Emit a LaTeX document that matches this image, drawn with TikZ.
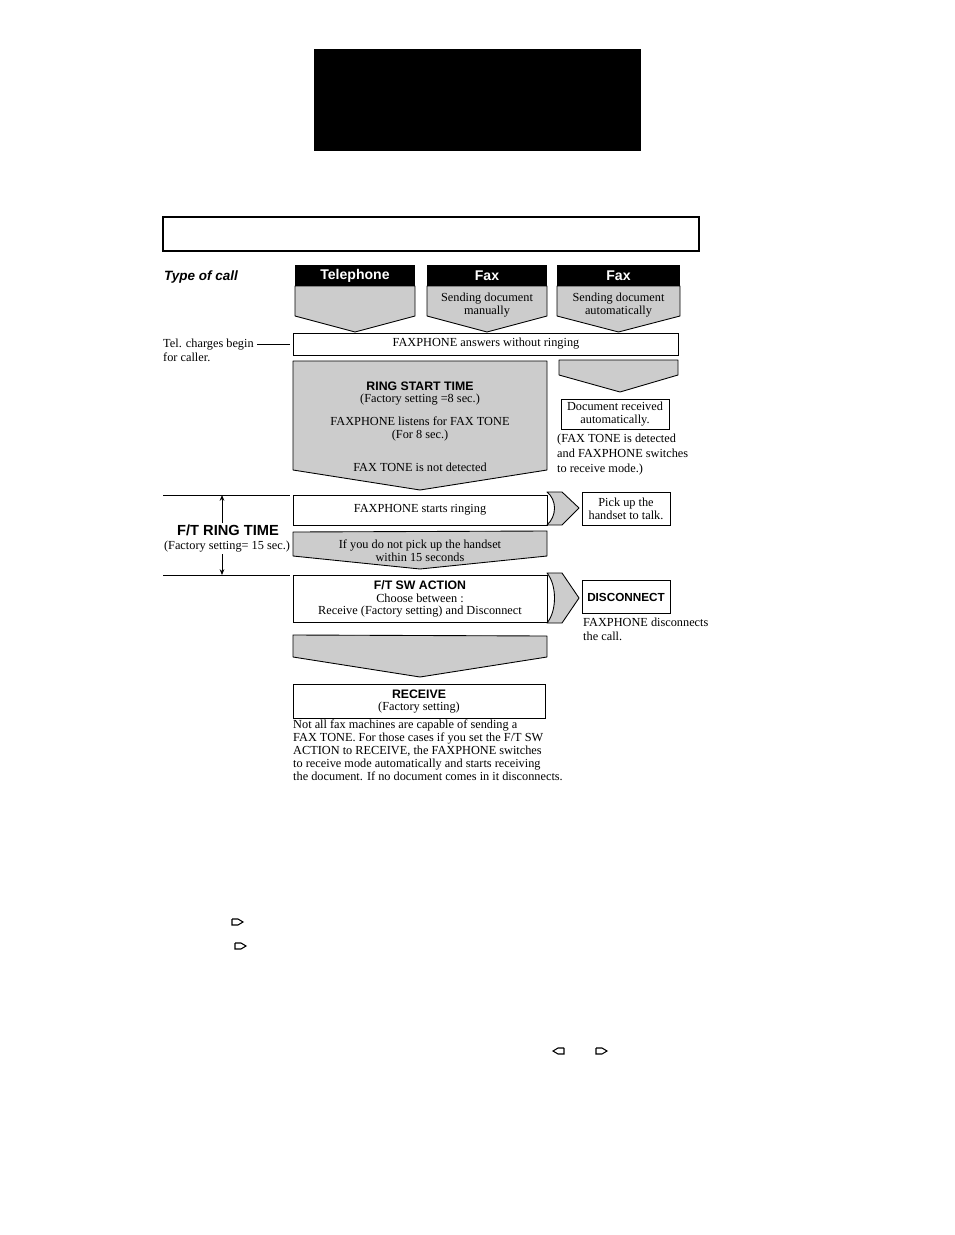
\documentclass[tikz,border=0pt]{standalone}
\usepackage{fontspec}
\setmainfont{Liberation Serif}
\setsansfont{Liberation Sans}
\usepackage{tikz}
\usetikzlibrary{positioning, calc, arrows.meta}

\tikzset{
  pointer/.pic={
    \draw[line width=0.9pt, line join=miter] (0,-3) -- (0,3) -- (6,3) -- (11,0) -- (6,-3) -- (0,-3);
  }
}

\begin{document}
\begin{tikzpicture}[
  x=0.03cm, y=-0.03cm,
  font=\fontsize{10.5}{11}\selectfont,
  box/.style={draw, line width=0.75pt, fill=white, align=center, inner sep=0pt},
  hdr/.style={fill=black, text=white, font=\sffamily\bfseries\fontsize{12}{13}\selectfont, minimum height=0.63cm, inner sep=0pt},
  flow/.style={draw, line width=0.75pt, fill=gray!40, line join=round},
  ttl/.style={font=\sffamily\bfseries\fontsize{10.5}{12}\selectfont, inner sep=1pt},
  note/.style={align=left, anchor=north west, inner sep=0pt, font=\fontsize{10.5}{12.5}\selectfont},
]
\useasboundingbox (0,0) rectangle (954,1235);

\fill (314,49) rectangle (641,151);
\draw[line width=0.9pt] (163,217) rectangle (699,251);

\node[font=\sffamily\bfseries\itshape\fontsize{11.5}{12}\selectfont, anchor=west, inner sep=0pt] (type) at (164,277) {Type of call};

\draw[flow] (295,286) -- (295,316) -- (355,332) -- (415,316) -- (415,286) -- cycle;
\draw[flow] (427,286) -- (427,316) -- (487,332) -- (547,316) -- (547,286) -- cycle;
\draw[flow] (557,286) -- (557,316) -- (618.5,332) -- (680,316) -- (680,286) -- cycle;
\node[hdr, minimum width=3.6cm] (tel) at (355,275.5) {Telephone};
\node[hdr, minimum width=3.6cm] (faxa) at (487,275.5) {Fax};
\node[hdr, minimum width=3.69cm] (faxb) at (618.5,275.5) {Fax};
\node[align=center, inner sep=0pt, below=0.2cm of faxa] (faxatxt) {Sending document\\manually};
\node[align=center, inner sep=0pt, below=0.2cm of faxb] (faxbtxt) {Sending document\\automatically};

\node[box, minimum width=11.55cm, minimum height=0.66cm] (answer) at (486,344) {FAXPHONE answers without ringing};
\node[note, font=\fontsize{10.5}{12}\selectfont] (telnote) at (163,339) {Tel. charges begin\\for caller.};
\draw[line width=0.7pt] ([xshift=3pt]telnote.east |- answer.west) -- ([xshift=-3pt]answer.west);

\draw[flow] (293,361) -- (293,470) -- (420,490) -- (547,470) -- (547,361) -- cycle;
\node[ttl] (rst) at (420,386) {RING START TIME};
\node[inner sep=1pt] (rstset) at (420,400) {(Factory setting =8 sec.)};
\node[align=center, inner sep=1pt] (listen) at (420,429) {FAXPHONE listens for FAX TONE\\(For 8 sec.)};
\node[inner sep=1pt] (nodet) at (420,467) {FAX TONE is not detected};

\draw[flow] (559,360) -- (559,375) -- (620,392) -- (678,375) -- (678,360) -- cycle;
\node[box, minimum width=3.24cm, minimum height=0.9cm] (docrx) at (615,414) {Document received\\automatically.};
\node[note] (detnote) at (557,434) {(FAX TONE is detected\\and FAXPHONE switches\\to receive mode.)};

\coordinate (ttop) at (222,495);
\coordinate (tbot) at (222,575);
\draw[line width=0.8pt] (163,495) -- (290,495);
\draw[line width=0.8pt] (163,575) -- (290,575);
\node[font=\sffamily\bfseries\fontsize{12.5}{13}\selectfont, inner sep=1pt] (fttime) at (228,530) {F/T RING TIME};
\node[inner sep=1pt] (ftset) at (227,547) {(Factory setting= 15 sec.)};
\draw[line width=0.8pt, -{Stealth[length=5pt, width=4pt]}] (fttime.north -| ttop) -- (ttop);
\draw[line width=0.8pt, -{Stealth[length=5pt, width=4pt]}] (ftset.south -| tbot) -- (tbot);

\node[box, minimum width=7.62cm, minimum height=0.9cm] (ring) at (420,510) {FAXPHONE starts ringing};
\draw[flow] (547,492) -- (562,492) -- (579,508) -- (562,525) -- (547,525) .. controls (557,516) and (557,500) .. (547,492) -- cycle;
\node[box, minimum width=2.64cm, minimum height=0.99cm] (pickup) at (626,508.5) {Pick up the\\handset to talk.};

\draw[flow] (293,532) -- (293,556) -- (420,569) -- (547,556) -- (547,531) -- cycle;
\node[align=center, inner sep=0pt] (nopick) at (420,551) {If you do not pick up the handset\\within 15 seconds};

\node[box, minimum width=7.62cm, minimum height=1.41cm] (ftsw) at (420,598.5) {};
\node[ttl] (ftswt) at (420,585) {F/T SW ACTION};
\node[align=center, inner sep=0pt] (choose) at (420,605.5) {Choose between :\\Receive (Factory setting) and Disconnect};
\draw[flow] (547,573) -- (562,573) -- (579,598) -- (562,623) -- (547,623) .. controls (557,611) and (557,585) .. (547,573) -- cycle;
\node[box, minimum width=2.64cm, minimum height=0.99cm, font=\sffamily\bfseries\fontsize{10}{12}\selectfont] (disc) at (626,597) {DISCONNECT};
\node[note, font=\fontsize{10.5}{12}\selectfont] (discnote) at (583,618) {FAXPHONE disconnects\\the call.};

\draw[flow] (293,635) -- (293,657) -- (420,677) -- (547,657) -- (547,636) -- cycle;
\node[box, minimum width=7.56cm, minimum height=1.02cm] (recv) at (419,701) {};
\node[ttl] (recvt) at (419,694) {RECEIVE};
\node[inner sep=0pt] (recvset) at (419,708) {(Factory setting)};
\node[note, font=\fontsize{10.5}{11}\selectfont] (recvnote) at (293,720) {Not all fax machines are capable of sending a\\FAX TONE. For those cases if you set the F/T SW\\ACTION to RECEIVE, the FAXPHONE switches\\to receive mode automatically and starts receiving\\the document. If no document comes in it disconnects.};

\pic at (232,922) {pointer};
\pic at (235,946) {pointer};
\pic[xscale=-1] at (564,1051) {pointer};
\pic at (596,1051) {pointer};
\end{tikzpicture}
\end{document}
